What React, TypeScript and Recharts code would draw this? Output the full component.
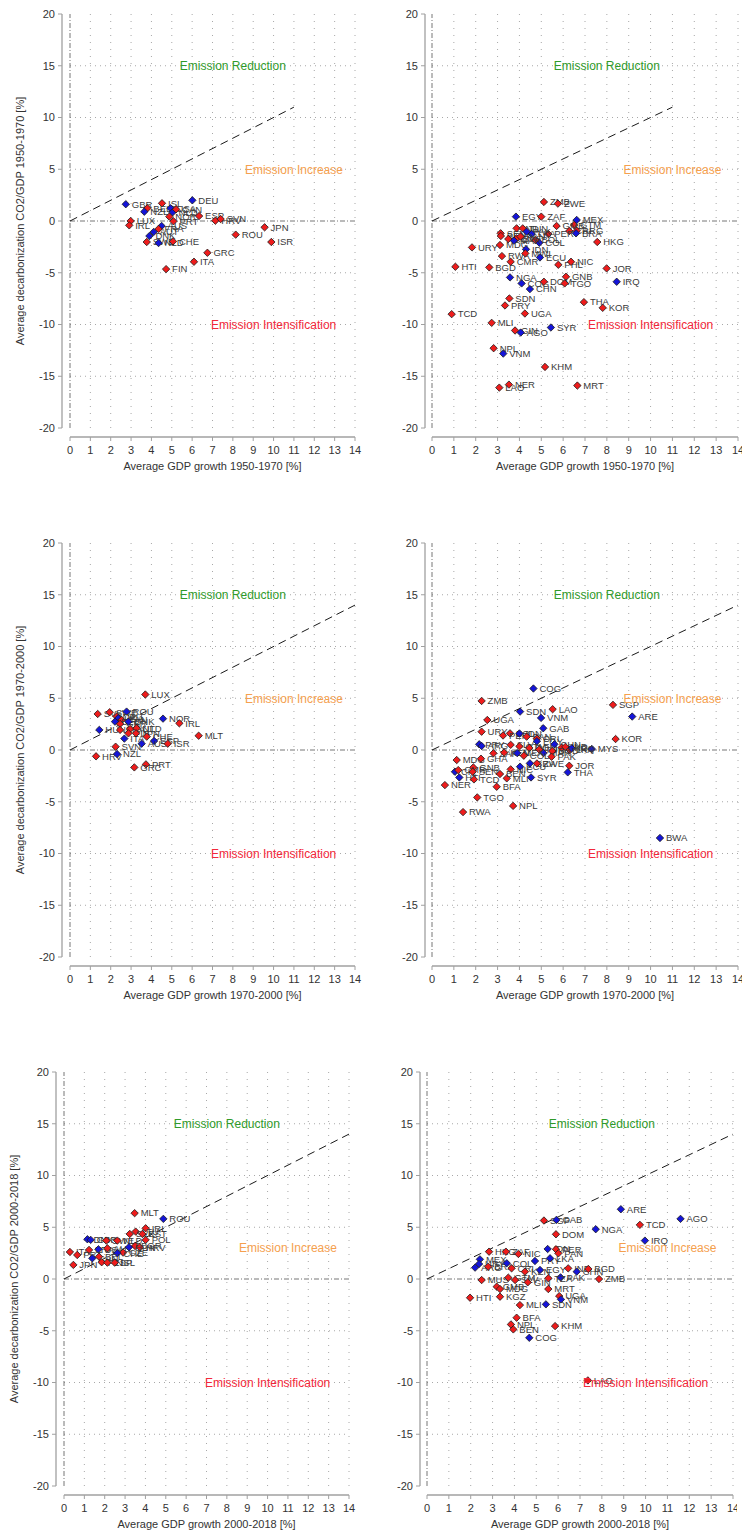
import React from 'react';
import { ScatterChart, Scatter, XAxis, YAxis, ReferenceLine, ReferenceDot, Label } from 'recharts';

type Pt = [string, number, number, 'r' | 'b'];

const xTicks = [0, 1, 2, 3, 4, 5, 6, 7, 8, 9, 10, 11, 12, 13, 14];
const yTicks = [-20, -15, -10, -5, 0, 5, 10, 15, 20];
const gridY = [-15, -10, -5, 5, 10, 15];

const regionLabels = ['Emission Reduction', 'Emission Increase', 'Emission Intensification'];

const oecd1950: Pt[] = [
  ['GBR', 2.74, 1.62, 'b'], ['ISL', 4.52, 1.71, 'r'], ['DEU', 6.01, 2.0, 'b'], ['BEL', 3.8, 1.23, 'r'],
  ['NZL', 3.65, 0.9, 'b'], ['USA', 4.94, 1.23, 'b'], ['NLD', 5.04, 0.84, 'b'], ['CAN', 5.21, 1.13, 'r'],
  ['NOR', 4.88, 0.42, 'r'], ['ESP', 6.34, 0.48, 'r'], ['HRV', 7.14, 0.03, 'r'], ['SVN', 7.4, 0.19, 'r'],
  ['PRT', 5.08, -0.03, 'r'], ['LUX', 2.98, 0.0, 'r'], ['IRL', 2.91, -0.42, 'r'], ['AUS', 4.5, -0.48, 'b'],
  ['FRA', 4.35, -0.77, 'r'], ['AUT', 4.11, -1.06, 'b'], ['DNK', 3.9, -1.45, 'b'], ['SWE', 3.77, -2.03, 'r'],
  ['NLD', 4.35, -2.13, 'b'], ['CHE', 5.06, -1.97, 'r'], ['ROU', 8.14, -1.32, 'r'], ['JPN', 9.56, -0.61, 'r'],
  ['ISR', 9.89, -2.03, 'r'], ['GRC', 6.75, -3.07, 'r'], ['ITA', 6.09, -3.94, 'r'], ['FIN', 4.72, -4.65, 'r'],
];

const dev1950: Pt[] = [
  ['ZMB', 5.12, 1.84, 'r'], ['ZWE', 5.76, 1.68, 'r'], ['EGY', 3.84, 0.42, 'b'], ['ZAF', 5.0, 0.42, 'r'],
  ['MEX', 6.62, 0.1, 'b'], ['GTM', 6.5, -0.39, 'r'], ['GMB', 5.7, -0.48, 'r'], ['CRI', 6.28, -0.97, 'r'],
  ['ARG', 6.62, -0.94, 'r'], ['BRA', 6.59, -1.19, 'b'], ['PER', 5.32, -1.26, 'r'], ['COL', 4.91, -2.1, 'b'],
  ['HKG', 7.56, -2.03, 'r'], ['URY', 1.83, -2.55, 'r'], ['MDG', 3.11, -2.32, 'r'], ['SEN', 3.14, -1.19, 'r'],
  ['BEN', 3.15, -1.45, 'r'], ['KEN', 3.49, -1.74, 'r'], ['IND', 3.87, -0.71, 'r'], ['TUN', 4.15, -0.71, 'r'],
  ['PAK', 4.33, -1.03, 'b'], ['LKA', 4.56, -1.26, 'b'], ['BOL', 4.73, -1.84, 'r'], ['CIV', 3.87, -1.68, 'r'],
  ['MAR', 3.75, -1.9, 'b'], ['PAN', 4.05, -1.5, 'r'], ['IDN', 4.3, -2.74, 'b'], ['RWA', 3.2, -3.39, 'r'],
  ['MWI', 4.27, -3.13, 'r'], ['ECU', 4.94, -3.52, 'b'], ['CMR', 3.6, -3.94, 'r'], ['PHL', 5.78, -4.23, 'r'],
  ['NIC', 6.36, -3.94, 'r'], ['HTI', 1.07, -4.42, 'r'], ['BGD', 2.62, -4.48, 'r'], ['JOR', 7.99, -4.58, 'r'],
  ['NGA', 3.57, -5.45, 'b'], ['GNB', 6.13, -5.39, 'r'], ['COG', 4.1, -6.03, 'b'], ['DOM', 5.12, -5.87, 'r'],
  ['TGO', 6.07, -6.03, 'r'], ['IRQ', 8.45, -5.87, 'b'], ['CHN', 4.48, -6.58, 'b'], ['SDN', 3.54, -7.48, 'r'],
  ['PRY', 3.34, -8.16, 'r'], ['TCD', 0.9, -9.0, 'r'], ['UGA', 4.25, -8.94, 'r'], ['THA', 6.95, -7.84, 'r'],
  ['KOR', 7.81, -8.39, 'r'], ['MLI', 2.73, -9.84, 'r'], ['GIN', 3.8, -10.58, 'r'], ['AGO', 4.06, -10.78, 'b'],
  ['SYR', 5.44, -10.29, 'b'], ['NPL', 2.82, -12.29, 'r'], ['VNM', 3.26, -12.81, 'b'], ['KHM', 5.17, -14.1, 'r'],
  ['NER', 3.52, -15.81, 'r'], ['LAO', 3.08, -16.1, 'r'], ['MRT', 6.65, -15.9, 'r'],
];

const oecd1970: Pt[] = [
  ['LUX', 3.7, 5.36, 'r'], ['SVK', 1.36, 3.48, 'r'], ['SWE', 1.95, 3.65, 'r'], ['ROU', 2.78, 3.71, 'b'],
  ['DEU', 2.29, 3.23, 'r'], ['USA', 2.37, 3.07, 'b'], ['CAN', 2.53, 2.9, 'r'], ['BEL', 2.21, 2.74, 'b'],
  ['GBR', 2.46, 2.52, 'r'], ['DNK', 2.87, 2.74, 'b'], ['HUN', 1.44, 1.94, 'b'], ['FRA', 2.46, 1.94, 'r'],
  ['AUT', 2.95, 2.03, 'r'], ['NLD', 3.27, 2.1, 'r'], ['FIN', 2.87, 1.61, 'r'], ['ITA', 2.67, 1.1, 'b'],
  ['JPN', 3.24, 1.61, 'r'], ['CHE', 3.77, 1.29, 'r'], ['ESP', 4.13, 0.87, 'b'], ['AUS', 3.52, 0.61, 'b'],
  ['ISR', 4.8, 0.61, 'r'], ['NOR', 4.57, 3.03, 'b'], ['IRL', 5.37, 2.58, 'r'], ['MLT', 6.32, 1.38, 'r'],
  ['SVN', 2.24, 0.32, 'r'], ['HRV', 1.28, -0.61, 'r'], ['NZL', 2.31, -0.39, 'b'], ['PRT', 3.73, -1.39, 'r'],
  ['GRC', 3.16, -1.68, 'r'],
];

const dev1970: Pt[] = [
  ['COG', 4.64, 5.94, 'b'], ['ZMB', 2.27, 4.74, 'r'], ['SDN', 4.03, 3.71, 'b'], ['LAO', 5.52, 3.94, 'r'],
  ['VNM', 4.99, 3.1, 'b'], ['SGP', 8.28, 4.36, 'r'], ['ARE', 9.16, 3.23, 'b'], ['UGA', 2.53, 2.9, 'r'],
  ['GAB', 5.09, 2.1, 'b'], ['URY', 2.27, 1.77, 'r'], ['KOR', 8.4, 1.06, 'r'], ['MYS', 7.31, 0.1, 'b'],
  ['PRY', 2.16, 0.55, 'b'], ['ARG', 2.27, 0.39, 'b'], ['BOL', 3.57, 1.61, 'r'], ['PER', 3.25, 1.4, 'r'],
  ['IDN', 4.0, 1.6, 'b'], ['PAN', 4.33, 1.29, 'r'], ['CRI', 4.8, 1.1, 'r'], ['EGY', 4.8, 0.85, 'b'],
  ['SLV', 3.6, 0.5, 'r'], ['GTM', 4.0, 0.35, 'r'], ['DOM', 4.45, 0.2, 'r'], ['TUN', 4.9, 0.05, 'r'],
  ['CHN', 5.6, 0.55, 'b'], ['HKG', 5.93, 0.23, 'r'], ['IND', 6.1, 0.3, 'r'], ['LKA', 6.3, 0.0, 'r'],
  ['IRQ', 6.39, 0.16, 'b'], ['MAR', 5.1, -0.3, 'b'], ['BGD', 5.5, -0.1, 'r'], ['PAK', 5.47, -0.65, 'r'],
  ['ZAF', 2.81, -0.32, 'r'], ['KEN', 3.3, -0.25, 'r'], ['MEX', 3.9, -0.3, 'b'], ['COL', 4.2, -0.55, 'r'],
  ['MDG', 1.13, -0.97, 'r'], ['GHA', 2.24, -0.84, 'r'], ['GNB', 1.89, -1.68, 'r'], ['CIV', 1.05, -2.1, 'b'],
  ['CMR', 1.2, -1.94, 'r'], ['HTI', 1.25, -2.65, 'b'], ['SEN', 1.86, -2.1, 'r'], ['TCD', 1.92, -2.84, 'r'],
  ['NER', 0.59, -3.39, 'r'], ['BFA', 2.96, -3.55, 'r'], ['TGO', 2.07, -4.58, 'r'], ['SYR', 4.53, -2.65, 'b'],
  ['MLI', 3.42, -2.74, 'r'], ['NIC', 3.6, -1.87, 'r'], ['ECU', 4.03, -1.61, 'b'], ['BRA', 4.48, -1.29, 'b'],
  ['ZWE', 4.8, -1.3, 'r'], ['BEN', 3.11, -2.32, 'r'], ['JOR', 6.28, -1.52, 'r'], ['THA', 6.21, -2.16, 'b'],
  ['RWA', 1.42, -6.0, 'r'], ['NPL', 3.71, -5.4, 'r'], ['BWA', 10.43, -8.5, 'b'],
];

const oecd2000: Pt[] = [
  ['MLT', 3.47, 6.36, 'r'], ['ROU', 4.88, 5.81, 'b'], ['IRL', 4.01, 4.9, 'r'], ['LTU', 3.52, 4.58, 'r'],
  ['SVK', 3.23, 4.35, 'r'], ['EST', 3.85, 4.35, 'r'], ['POL', 4.01, 3.78, 'r'], ['DNK', 1.15, 3.84, 'b'],
  ['GBR', 1.31, 3.78, 'b'], ['SWE', 2.08, 3.71, 'r'], ['NLD', 2.62, 3.71, 'r'], ['BGR', 3.49, 3.19, 'r'],
  ['HRV', 3.72, 3.07, 'r'], ['ITA', 0.29, 2.61, 'r'], ['FRA', 1.23, 2.81, 'r'], ['USA', 1.69, 2.87, 'b'],
  ['AUT', 2.13, 2.97, 'r'], ['HUN', 3.19, 3.07, 'b'], ['CZE', 2.9, 2.55, 'r'], ['CHE', 2.62, 2.49, 'b'],
  ['PRT', 0.65, 2.32, 'r'], ['CAN', 1.39, 2.0, 'b'], ['BEL', 1.72, 2.16, 'r'], ['FIN', 1.85, 1.62, 'r'],
  ['ESP', 2.13, 1.58, 'r'], ['ISL', 2.49, 1.58, 'r'], ['JPN', 0.46, 1.36, 'r'],
];

const dev2000: Pt[] = [
  ['ARE', 8.87, 6.74, 'b'], ['AGO', 11.6, 5.81, 'b'], ['TCD', 9.74, 5.23, 'r'], ['IRQ', 9.97, 3.71, 'b'],
  ['SGP', 5.35, 5.65, 'r'], ['GAB', 5.92, 5.71, 'b'], ['NGA', 7.72, 4.81, 'b'], ['DOM', 5.9, 4.32, 'r'],
  ['IDN', 5.52, 2.9, 'b'], ['PER', 5.9, 2.87, 'r'], ['PAN', 6.01, 2.48, 'r'], ['HKG', 2.84, 2.64, 'r'],
  ['ZAF', 3.61, 2.64, 'r'], ['NIC', 4.18, 2.42, 'r'], ['MEX', 2.42, 1.9, 'b'], ['URY', 2.38, 1.45, 'b'],
  ['ARG', 2.2, 1.1, 'b'], ['BRA', 2.8, 1.19, 'r'], ['COL', 3.65, 1.52, 'b'], ['CRI', 3.87, 1.03, 'r'],
  ['PRY', 4.94, 1.74, 'b'], ['LKA', 5.63, 2.0, 'b'], ['KEN', 4.48, 0.71, 'r'], ['EGY', 5.17, 0.87, 'b'],
  ['IND', 6.46, 1.03, 'r'], ['CHN', 6.85, 0.71, 'b'], ['BGD', 7.38, 0.97, 'r'], ['PAK', 6.11, 0.16, 'b'],
  ['TZA', 5.55, 0.07, 'r'], ['ZMB', 7.87, 0.0, 'r'], ['MUS', 2.5, -0.1, 'r'], ['GTM', 3.72, 0.13, 'r'],
  ['SLV', 4.03, -0.1, 'r'], ['GIN', 4.61, -0.32, 'r'], ['GMB', 3.19, -0.74, 'r'], ['MDG', 3.34, -0.97, 'r'],
  ['MRT', 5.55, -0.97, 'r'], ['KGZ', 3.34, -1.71, 'r'], ['HTI', 1.97, -1.81, 'r'], ['UGA', 6.05, -1.65, 'r'],
  ['VNM', 6.13, -1.97, 'b'], ['MLI', 4.25, -2.52, 'r'], ['SDN', 5.44, -2.45, 'b'], ['BFA', 4.1, -3.74, 'r'],
  ['NPL', 3.84, -4.39, 'r'], ['BEN', 3.95, -4.87, 'r'], ['KHM', 5.86, -4.55, 'r'], ['COG', 4.68, -5.68, 'b'],
  ['LAO', 7.36, -9.8, 'r'],
];

const RED = '#ee1c1c';
const BLUE = '#1414d8';
const FONT = '"Liberation Sans", Arial, sans-serif';

const renderPoint = (p: any) => {
  const { cx, cy, payload } = p;
  if (cx == null || cy == null) return <g />;
  const h = 3.7;
  return (
    <g>
      <path
        d={`M${cx},${cy - h}L${cx + h},${cy}L${cx},${cy + h}L${cx - h},${cy}Z`}
        fill={payload.c === 'b' ? BLUE : RED}
        stroke="#1a1a1a"
        strokeWidth={0.8}
        strokeLinejoin="round"
      />
      <text x={cx + 6} y={cy} dy="0.35em" fontSize={9.5} fill="#3a3a3a" fontFamily={FONT}>
        {payload.name}
      </text>
    </g>
  );
};

type PanelProps = {
  data: Pt[];
  xTitle: string;
  yTitle?: string;
  col: 0 | 1;
  row: number;
  diagEnd: number;
  incY: number;
  shift?: number;
};

const W = 371;
const H = 476;
const ROW_STEP = 529;

function Panel({ data, xTitle, yTitle, col, row, diagEnd, incY, shift = 0 }: PanelProps) {
  const left = col === 0;
  const yAxisW = left ? 62 : 54;
  const x0 = left ? 70 : 61;
  const plotR = left ? 355 : 367;
  const xScale = (plotR - x0) / 14;
  const xMin = -(x0 - yAxisW) / xScale;
  const yScale = (428 - 14) / 40;
  const yMin = -20 - (437 - 428) / yScale;
  const pts = data.map(([name, x, y, c]) => ({ name, x, y, c }));

  return (
    <div style={{ position: 'absolute', left: col * W + shift, top: row * ROW_STEP, width: W, height: H }}>
      <ScatterChart width={W} height={H} margin={{ top: 14, right: W - plotR, bottom: 0, left: 0 }}>
        <XAxis
          type="number"
          dataKey="x"
          domain={[xMin, 14]}
          ticks={xTicks}
          interval={0}
          allowDataOverflow
          axisLine={false}
          tickLine={{ stroke: '#a0a0a0' }}
          tickSize={4}
          tickMargin={5}
          height={H - 437}
          tick={{ fontSize: 11, fill: '#333', fontFamily: FONT }}
        >
          <Label
            content={() => (
              <text x={(x0 + plotR) / 2} y={466} textAnchor="middle" dominantBaseline="central" fontSize={11} fill="#333" fontFamily={FONT}>
                {xTitle}
              </text>
            )}
          />
        </XAxis>
        <YAxis
          type="number"
          dataKey="y"
          domain={[yMin, 20]}
          ticks={yTicks}
          interval={0}
          allowDataOverflow
          axisLine={false}
          tickLine={{ stroke: '#a0a0a0' }}
          tickSize={4}
          tickMargin={3}
          width={yAxisW}
          tick={{ fontSize: 11, fill: '#333', fontFamily: FONT }}
        >
          {yTitle ? (
            <Label
              content={() => (
                <text x={20} y={221} transform="rotate(-90 20 221)" textAnchor="middle" dominantBaseline="central" fontSize={11} fill="#333" fontFamily={FONT}>
                  {yTitle}
                </text>
              )}
            />
          ) : null}
        </YAxis>

        {xTicks.slice(1).map((t) => (
          <ReferenceLine key={`gx${t}`} segment={[{ x: t, y: -20 }, { x: t, y: 20 }]} stroke="#a8a8a8" strokeDasharray="1 6" ifOverflow="visible" />
        ))}
        {gridY.map((t) => (
          <ReferenceLine key={`gy${t}`} segment={[{ x: 0, y: t }, { x: 14, y: t }]} stroke="#a8a8a8" strokeDasharray="1 4" ifOverflow="visible" />
        ))}
        <ReferenceLine segment={[{ x: 0, y: -20 }, { x: 0, y: 20 }]} stroke="#666" strokeWidth={0.9} strokeDasharray="5 2 1 2" ifOverflow="visible" />
        <ReferenceLine segment={[{ x: 0, y: 0 }, { x: 14, y: 0 }]} stroke="#666" strokeWidth={0.9} strokeDasharray="5 2 1 2" ifOverflow="visible" />
        <ReferenceLine segment={[{ x: 0, y: 0 }, { x: diagEnd, y: diagEnd }]} stroke="#1a1a1a" strokeWidth={1} strokeDasharray="8 5" ifOverflow="visible" />
        <ReferenceLine segment={[{ x: xMin, y: -20 }, { x: xMin, y: 20 }]} stroke="#a0a0a0" strokeWidth={1.3} ifOverflow="visible" />
        <ReferenceLine segment={[{ x: 0, y: yMin }, { x: 14, y: yMin }]} stroke="#a0a0a0" strokeWidth={1.3} ifOverflow="visible" />

        <ReferenceDot x={8} y={15} r={0} fill="none" stroke="none" ifOverflow="visible"
          label={{ value: regionLabels[0], position: 'center', fill: '#2f9a2a', fontSize: 12, fontFamily: FONT }} />
        <ReferenceDot x={11} y={incY} r={0} fill="none" stroke="none" ifOverflow="visible"
          label={{ value: regionLabels[1], position: 'center', fill: '#f5a04e', fontSize: 12, fontFamily: FONT }} />
        <ReferenceDot x={10} y={-10} r={0} fill="none" stroke="none" ifOverflow="visible"
          label={{ value: regionLabels[2], position: 'center', fill: '#f2283a', fontSize: 12, fontFamily: FONT }} />

        <Scatter data={pts} isAnimationActive={false} shape={renderPoint} />
      </ScatterChart>
    </div>
  );
}

export default function App() {
  return (
    <div style={{ position: 'absolute', left: 0, top: 0, width: 742, height: 1535, background: '#fff', fontFamily: FONT, overflow: 'hidden' }}>
      <Panel data={oecd1950} xTitle="Average GDP growth 1950-1970 [%]" yTitle="Average decarbonization CO2/GDP 1950-1970 [%]" col={0} row={0} diagEnd={11} incY={5} />
      <Panel data={dev1950} xTitle="Average GDP growth 1950-1970 [%]" col={1} row={0} diagEnd={11} incY={5} />
      <Panel data={oecd1970} xTitle="Average GDP growth 1970-2000 [%]" yTitle="Average decarbonization CO2/GDP 1970-2000 [%]" col={0} row={1} diagEnd={14} incY={5} />
      <Panel data={dev1970} xTitle="Average GDP growth 1970-2000 [%]" col={1} row={1} diagEnd={14} incY={5} />
      <Panel data={oecd2000} xTitle="Average GDP growth 2000-2018 [%]" yTitle="Average decarbonization CO2/GDP 2000-2018 [%]" col={0} row={2} diagEnd={14} incY={3} shift={-6} />
      <Panel data={dev2000} xTitle="Average GDP growth 2000-2018 [%]" col={1} row={2} diagEnd={14} incY={3} shift={-5} />
    </div>
  );
}
